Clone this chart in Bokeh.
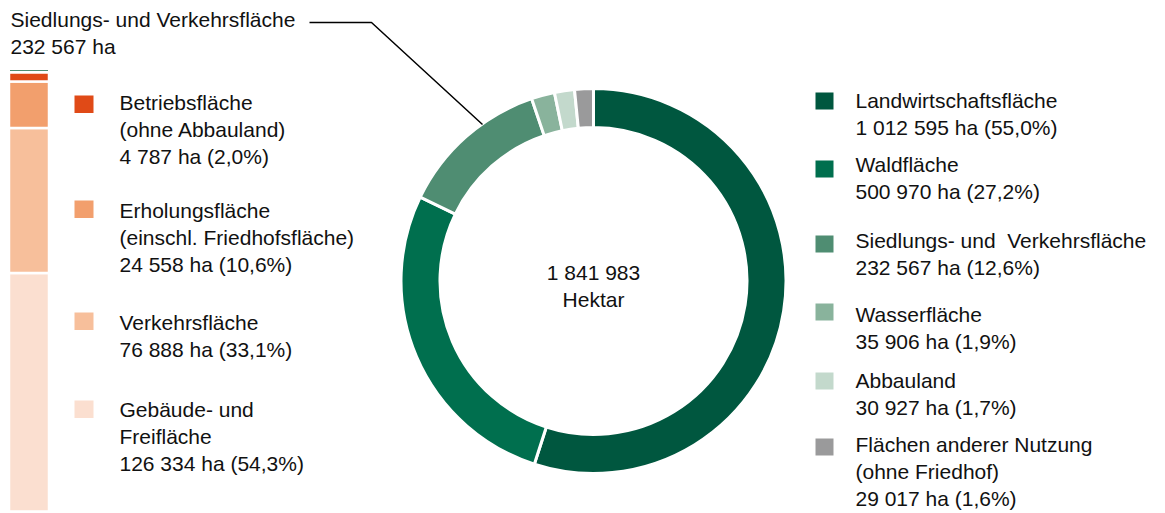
import math
from bokeh.plotting import figure
from bokeh.models import Range1d, ColumnDataSource
from bokeh.core.properties import value
from bokeh.embed import file_html
from bokeh.resources import INLINE

# ---------------- data ----------------
categories = ["Landwirtschaftsfläche", "Waldfläche", "Siedlungs- und Verkehrsfläche",
              "Wasserfläche", "Abbauland", "Flächen anderer Nutzung"]
hectares = [1012595, 500970, 232567, 35906, 30927, 29017]
donut_colors = ["#00573f", "#006f4e", "#4f8d72", "#89b39c", "#c3d9cc", "#9a9a9b"]
donut_labels = [
    ["Landwirtschaftsfläche", "1 012 595 ha (55,0%)"],
    ["Waldfläche", "500 970 ha (27,2%)"],
    ["Siedlungs- und\u00a0 Verkehrsfläche", "232 567 ha (12,6%)"],
    ["Wasserfläche", "35 906 ha (1,9%)"],
    ["Abbauland", "30 927 ha (1,7%)"],
    ["Flächen anderer Nutzung", "(ohne Friedhof)", "29 017 ha (1,6%)"],
]

sv_categories = ["Gebäude- und Freifläche", "Verkehrsfläche", "Erholungsfläche", "Betriebsfläche"]
sv_hectares = [126334, 76888, 24558, 4787]          # bottom to top
sv_colors = ["#fbdfd0", "#f7bf9b", "#f29f6d", "#e04a17"]
sv_labels = [
    ["Gebäude- und", "Freifläche", "126 334 ha (54,3%)"],
    ["Verkehrsfläche", "76 888 ha (33,1%)"],
    ["Erholungsfläche", "(einschl. Friedhofsfläche)", "24 558 ha (10,6%)"],
    ["Betriebsfläche", "(ohne Abbauland)", "4 787 ha (2,0%)"],
]
total_label = ["1 841 983", "Hektar"]
callout_label = ["Siedlungs- und Verkehrsfläche", "232 567 ha"]

# ---------------- layout ----------------
W, H = 1165, 513
DY = -7  # baseline correction
def Y(v):
    return H - v

FONT = value("Liberation Sans")
FS = "21px"
TC = "#111111"

p = figure(width=W, height=H, x_range=Range1d(0, W), y_range=Range1d(0, H),
           output_backend="svg", toolbar_location=None, min_border=0,
           x_axis_location=None, y_axis_location=None)
p.grid.visible = False
p.outline_line_color = None
p.background_fill_color = "white"
p.border_fill_color = "white"

# ---- donut ----
cx, cy = 593, Y(280.5)
total = sum(hectares)
starts, ends = [], []
c = 0.0
for v in hectares:
    f0 = c / total
    c += v
    f1 = c / total
    # clockwise from 12 o'clock
    starts.append(math.pi / 2 - 2 * math.pi * f1)
    ends.append(math.pi / 2 - 2 * math.pi * f0)
donut_src = ColumnDataSource(dict(start=starts, end=ends, color=donut_colors))
p.annular_wedge(x=cx, y=cy, inner_radius=153.5, outer_radius=192.5,
                start_angle="start", end_angle="end", direction="anticlock",
                fill_color="color", line_color="white", line_width=3, source=donut_src)

def put(x, yb, s, align="left"):
    p.text(x=[x], y=[Y(yb + DY)], text=[s], text_font=FONT, text_font_size=FS,
           text_align=align, text_baseline="alphabetic", text_color=TC)

for i, line in enumerate(total_label):
    put(cx, 278.5 + 27 * i, line, "center")

# ---- stacked bar for Siedlungs- und Verkehrsfläche ----
bar_bottom, bar_top = 511.0, 72.0
scale = (bar_bottom - bar_top) / sum(sv_hectares)
bots, tops = [], []
c = 0.0
for v in sv_hectares:
    bots.append(Y(bar_bottom - c * scale))
    c += v
    tops.append(Y(bar_bottom - c * scale))
bar_src = ColumnDataSource(dict(b=bots, t=tops, color=sv_colors))
p.quad(left=8.5, right=48.5, bottom="b", top="t", fill_color="color",
       line_color="white", line_width=2.5, source=bar_src)
p.line(x=[9.5, 47.5], y=[Y(70), Y(70)], line_color=donut_colors[2], line_width=1.2)

# ---- callout ----
for i, line in enumerate(callout_label):
    put(10, 26 + 27 * i, line)
p.line(x=[309, 371, 482], y=[Y(22), Y(22), Y(124)], line_color="black", line_width=1.5)

# ---- left legend (top to bottom) ----
left_sq_top = [95, 200, 312, 400]
left_base = [109, 217, 329, 416]
for k, idx in enumerate([3, 2, 1, 0]):
    t = left_sq_top[k]
    p.quad(left=74, right=93, top=Y(t), bottom=Y(t + 17.5), fill_color=sv_colors[idx],
           line_color=None)
    for j, line in enumerate(sv_labels[idx]):
        put(119, left_base[k] + 27 * j, line)

# ---- right legend ----
right_sq_top = [92, 160, 235, 303, 372, 438]
right_base = [107, 171, 247, 321, 387, 451]
for i in range(len(hectares)):
    t = right_sq_top[i]
    p.quad(left=815, right=833, top=Y(t), bottom=Y(t + 17), fill_color=donut_colors[i],
           line_color=None)
    for j, line in enumerate(donut_labels[i]):
        put(855, right_base[i] + 27 * j, line)

open("out.html", "w").write(file_html(p, INLINE))
